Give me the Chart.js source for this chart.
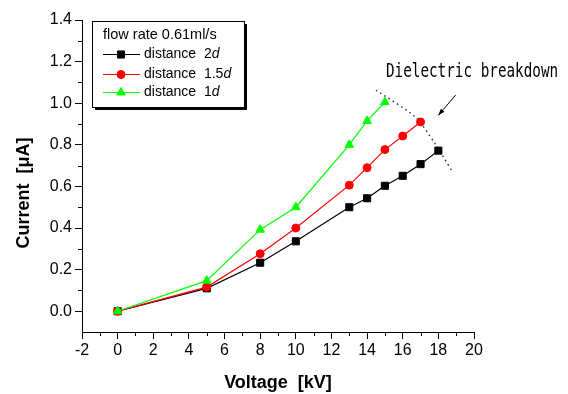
<!DOCTYPE html>
<html>
<head>
<meta charset="utf-8">
<script src="https://cdn.jsdelivr.net/npm/chart.js@4/dist/chart.umd.min.js"></script>
<style>
  html, body { margin: 0; padding: 0; background: #fff; }
  canvas { display: block; }
</style>
</head>
<body>
<canvas id="chart" width="568" height="394"></canvas>
<script>
"use strict";

// ---------------- data ----------------
const voltage2d = [0, 5, 8, 10, 13, 14, 15, 16, 17, 18];
const current2d = [0, 0.11, 0.233, 0.336, 0.5, 0.543, 0.603, 0.651, 0.707, 0.772];

const voltage15d = [0, 5, 8, 10, 13, 14, 15, 16, 17];
const current15d = [0, 0.116, 0.276, 0.4, 0.606, 0.69, 0.777, 0.842, 0.91];

const voltage1d = [0, 5, 8, 10, 13, 14, 15];
const current1d = [0, 0.147, 0.392, 0.5, 0.8, 0.915, 1.005];

// dotted "breakdown" boundary
const breakdownV = [14.5, 16.7, 17.8, 18.75];
const breakdownI = [1.063, 0.934, 0.807, 0.676];

const xTicks = [-2, 0, 2, 4, 6, 8, 10, 12, 14, 16, 18, 20];
const yTicks = [0, 0.2, 0.4, 0.6, 0.8, 1.0, 1.2, 1.4];

const legendTitle = "flow rate 0.61ml/s";
const legendMult = ["2", "1.5", "1"];

// annotation anchors (data units)
const noteText = "Dielectric breakdown";
const noteAt = [15.06, 1.125];
const arrowFrom = [18.97, 1.039];
const arrowTo = [18.0, 0.942];

const SANS = "'Liberation Sans', Arial, sans-serif";
const pts = (xs, ys) => xs.map((x, i) => ({ x, y: ys[i] }));

// ---------------- extras drawn on top ----------------
const extras = {
  id: "extras",
  afterDraw(chart) {
    const { ctx, scales: { x, y } } = chart;
    ctx.save();

    // minor ticks
    ctx.strokeStyle = "#000"; ctx.lineWidth = 1;
    ctx.beginPath();
    for (let i = 0; i < xTicks.length - 1; i++) {
      const px = Math.round(x.getPixelForValue((xTicks[i] + xTicks[i + 1]) / 2)) + 0.5;
      ctx.moveTo(px, y.bottom); ctx.lineTo(px, y.bottom + 4);
    }
    for (let i = 0; i < yTicks.length - 1; i++) {
      const py = Math.round(y.getPixelForValue((yTicks[i] + yTicks[i + 1]) / 2)) + 0.5;
      ctx.moveTo(x.left, py); ctx.lineTo(x.left - 4, py);
    }
    ctx.stroke();

    // y title
    ctx.save();
    ctx.translate(24, 193);
    ctx.rotate(-Math.PI / 2);
    ctx.font = "bold 18px " + SANS;
    ctx.fillStyle = "#000";
    ctx.textAlign = "center"; ctx.textBaseline = "middle";
    ctx.fillText("Current  [\u03bcA]", 0, 0);
    ctx.restore();

    // legend box with shadow
    const bx = 92, by = 21, bw = 152, bh = 86;
    ctx.fillStyle = "#000"; ctx.fillRect(bx + 3, by + 3, bw, bh);
    ctx.fillStyle = "#fff"; ctx.fillRect(bx, by, bw, bh);
    ctx.strokeStyle = "#000"; ctx.strokeRect(bx + 0.5, by + 0.5, bw, bh);
    ctx.fillStyle = "#000";
    ctx.textBaseline = "middle"; ctx.textAlign = "left";
    ctx.font = "14.5px " + SANS;
    ctx.fillText(legendTitle, 103, 35);
    const rows = [54, 74, 92];
    const order = [2, 1, 0]; // dataset indices: 2d, 1.5d, 1d
    order.forEach((di, k) => {
      const ds = chart.data.datasets[di];
      const ry = rows[k];
      ctx.strokeStyle = ds.borderColor; ctx.lineWidth = 1;
      ctx.beginPath(); ctx.moveTo(103, ry + 0.5); ctx.lineTo(140, ry + 0.5); ctx.stroke();
      ctx.fillStyle = ds.pointBackgroundColor; ctx.strokeStyle = ds.pointBorderColor;
      Chart.helpers.drawPoint(ctx, { pointStyle: ds.pointStyle, radius: ds.pointRadius, rotation: 0, borderWidth: 1 }, 121, ry + 0.5);
      ctx.fillStyle = "#000";
      ctx.font = "14px " + SANS;
      const lead = "distance  " + legendMult[k];
      ctx.fillText(lead, 144, ry);
      const w = ctx.measureText(lead).width;
      ctx.font = "italic 14px " + SANS;
      ctx.fillText("d", 144 + w, ry);
    });

    // annotation text
    ctx.save();
    ctx.translate(x.getPixelForValue(noteAt[0]), y.getPixelForValue(noteAt[1]));
    ctx.scale(1, 1.35);
    ctx.font = "14.3px 'DejaVu Sans Mono', monospace";
    ctx.fillStyle = "#000"; ctx.textBaseline = "alphabetic";
    ctx.fillText(noteText, 0, 0);
    ctx.restore();

    // arrow
    const ax = x.getPixelForValue(arrowFrom[0]), ay = y.getPixelForValue(arrowFrom[1]);
    const hx = x.getPixelForValue(arrowTo[0]), hy = y.getPixelForValue(arrowTo[1]);
    const ang = Math.atan2(hy - ay, hx - ax);
    ctx.strokeStyle = "#000"; ctx.fillStyle = "#000"; ctx.lineWidth = 1;
    ctx.beginPath(); ctx.moveTo(ax, ay); ctx.lineTo(hx, hy); ctx.stroke();
    ctx.beginPath();
    ctx.moveTo(hx, hy);
    ctx.lineTo(hx - 7 * Math.cos(ang - 0.35), hy - 7 * Math.sin(ang - 0.35));
    ctx.lineTo(hx - 7 * Math.cos(ang + 0.35), hy - 7 * Math.sin(ang + 0.35));
    ctx.closePath(); ctx.fill();

    ctx.restore();
  },
};

// ---------------- chart ----------------
const series = (label, xs, ys, color, style, r, order) => ({
  label, data: pts(xs, ys), order,
  borderColor: color, borderWidth: 1.2,
  pointStyle: style, pointRadius: r, pointHoverRadius: r,
  pointBackgroundColor: color, pointBorderColor: color, pointBorderWidth: 1,
});

new Chart(document.getElementById("chart"), {
  type: "line",
  data: {
    datasets: [
      series("distance 1d", voltage1d, current1d, "#00ff00", "triangle", 5, 1),
      series("distance 1.5d", voltage15d, current15d, "#ff0000", "circle", 4, 2),
      series("distance 2d", voltage2d, current2d, "#000000", "rect", 5, 3),
      {
        label: "breakdown", data: pts(breakdownV, breakdownI), order: 4,
        borderColor: "#333", borderWidth: 1.5, borderDash: [1.5, 3.5],
        pointRadius: 0, tension: 0.25,
      },
    ],
  },
  options: {
    responsive: false, animation: false,
    layout: { padding: { top: 20, right: 94, bottom: 0, left: 0 } },
    plugins: { legend: { display: false }, tooltip: { enabled: false } },
    scales: {
      x: {
        type: "linear", min: -2, max: 20,
        afterBuildTicks: (s) => { s.ticks = xTicks.map((v) => ({ value: v })); },
        afterFit: (s) => { s.height = 62; },
        ticks: { color: "#000", font: { family: SANS, size: 16 }, padding: 2, maxRotation: 0, autoSkip: false },
        grid: { drawOnChartArea: false, tickLength: 7, tickColor: "#000" },
        border: { color: "#000", width: 1 },
        title: { display: true, text: "Voltage  [kV]", color: "#000",
                 font: { family: SANS, size: 18, weight: "bold" }, padding: { top: 0, bottom: 0 } },
      },
      y: {
        type: "linear", min: -0.1, max: 1.4,
        afterBuildTicks: (s) => { s.ticks = yTicks.map((v) => ({ value: v })); },
        afterFit: (s) => { s.width = 82; },
        ticks: { color: "#000", font: { family: SANS, size: 16 }, padding: 3,
                 callback: (v) => v.toFixed(1) },
        grid: { drawOnChartArea: false, tickLength: 7, tickColor: "#000" },
        border: { color: "#000", width: 1 },
      },
    },
  },
  plugins: [extras],
});
</script>
</body>
</html>
